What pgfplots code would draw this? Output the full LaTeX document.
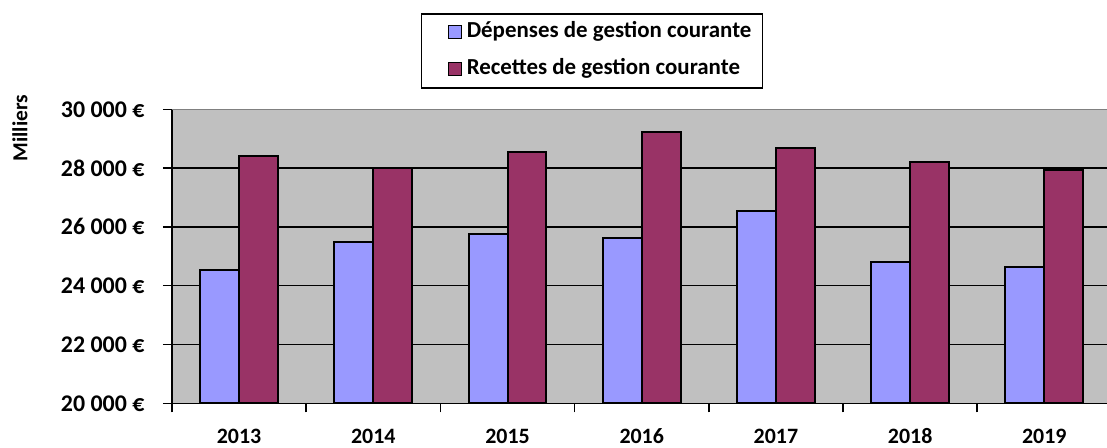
\documentclass[border=0pt]{standalone}
\usepackage{pgfplots}
\pgfplotsset{compat=1.18}
\usepackage{fontspec}
\setmainfont{Carlito}
\definecolor{depblue}{RGB}{153,153,255}
\definecolor{recred}{RGB}{153,51,102}
\definecolor{bggray}{RGB}{192,192,192}
\pgfplotsset{sqlegend/.style={area legend, legend image code/.code={\path (-20bp,0bp); \draw[##1, line width=1.2bp] (0bp,-6bp) rectangle (13bp,7bp);}}}
\begin{document}
\begin{tikzpicture}
\begin{axis}[
  at={(172bp,44.7bp)}, anchor=south west,
  scale only axis, width=935bp, height=294bp,
  xmin=-0.5, xmax=6.467, ymin=20000, ymax=30000,
  axis x line*=bottom, axis y line*=left,
  axis line style={-, black, line width=1.5bp},
  axis background/.style={fill=bggray},
  scaled y ticks=false,
  ytick={20000,22000,24000,26000,28000},
  yticklabels={20 000 €,22 000 €,24 000 €,26 000 €,28 000 €},
  extra y ticks={30000}, extra y tick labels={30 000 €},
  extra y tick style={grid style={color=black!50, line width=1.5bp}},
  ymajorgrids, grid style={black, line width=1.3bp},
  xtick={0,1,2,3,4,5,6},
  xticklabels={2013,2014,2015,2016,2017,2018,2019},
  minor xtick={-0.5,0.5,1.5,2.5,3.5,4.5,5.5},
  every major x tick/.append style={draw=none},
  tick align=outside,
  major tick length=9bp, minor tick length=9bp,
  tick style={black, line width=1.5bp},
  yticklabel style={font=\fontsize{24}{28}\selectfont\bfseries, xshift=-15bp},
  xticklabel style={font=\fontsize{22}{26}\selectfont\bfseries, yshift=-13bp,
    text height=15bp, text depth=0bp, anchor=north},
  ylabel={Milliers},
  ylabel style={at={(axis description cs:-0.1626,0.936)}, anchor=center,
    font=\fontsize{21.5}{25}\selectfont\bfseries},
  legend style={at={(0.449,1.3265)}, anchor=north, draw=black, line width=1.3bp,
    fill=white, font=\fontsize{23}{27}\selectfont\bfseries,
    inner xsep=6bp, inner ysep=6.5bp, row sep=13bp,
    nodes={text height=15bp, text depth=5bp, inner xsep=5bp, inner ysep=2bp}},
  legend cell align=left,
  clip=true,
]
\addplot[ybar, bar width=0.29, bar shift=-0.145, fill=depblue, draw=black, line width=2bp, sqlegend]
  coordinates {(0,24530) (1,25500) (2,25770) (3,25630) (4,26530) (5,24810) (6,24630)};
\addlegendentry{Dépenses de gestion courante}
\addplot[ybar, bar width=0.29, bar shift=0.145, fill=recred, draw=black, line width=2bp, sqlegend]
  coordinates {(0,28420) (1,28010) (2,28560) (3,29240) (4,28690) (5,28220) (6,27940)};
\addlegendentry{Recettes de gestion courante}
\end{axis}
\pgfresetboundingbox
\useasboundingbox (0,0) rectangle (1107bp,448bp);
\end{tikzpicture}
\end{document}
